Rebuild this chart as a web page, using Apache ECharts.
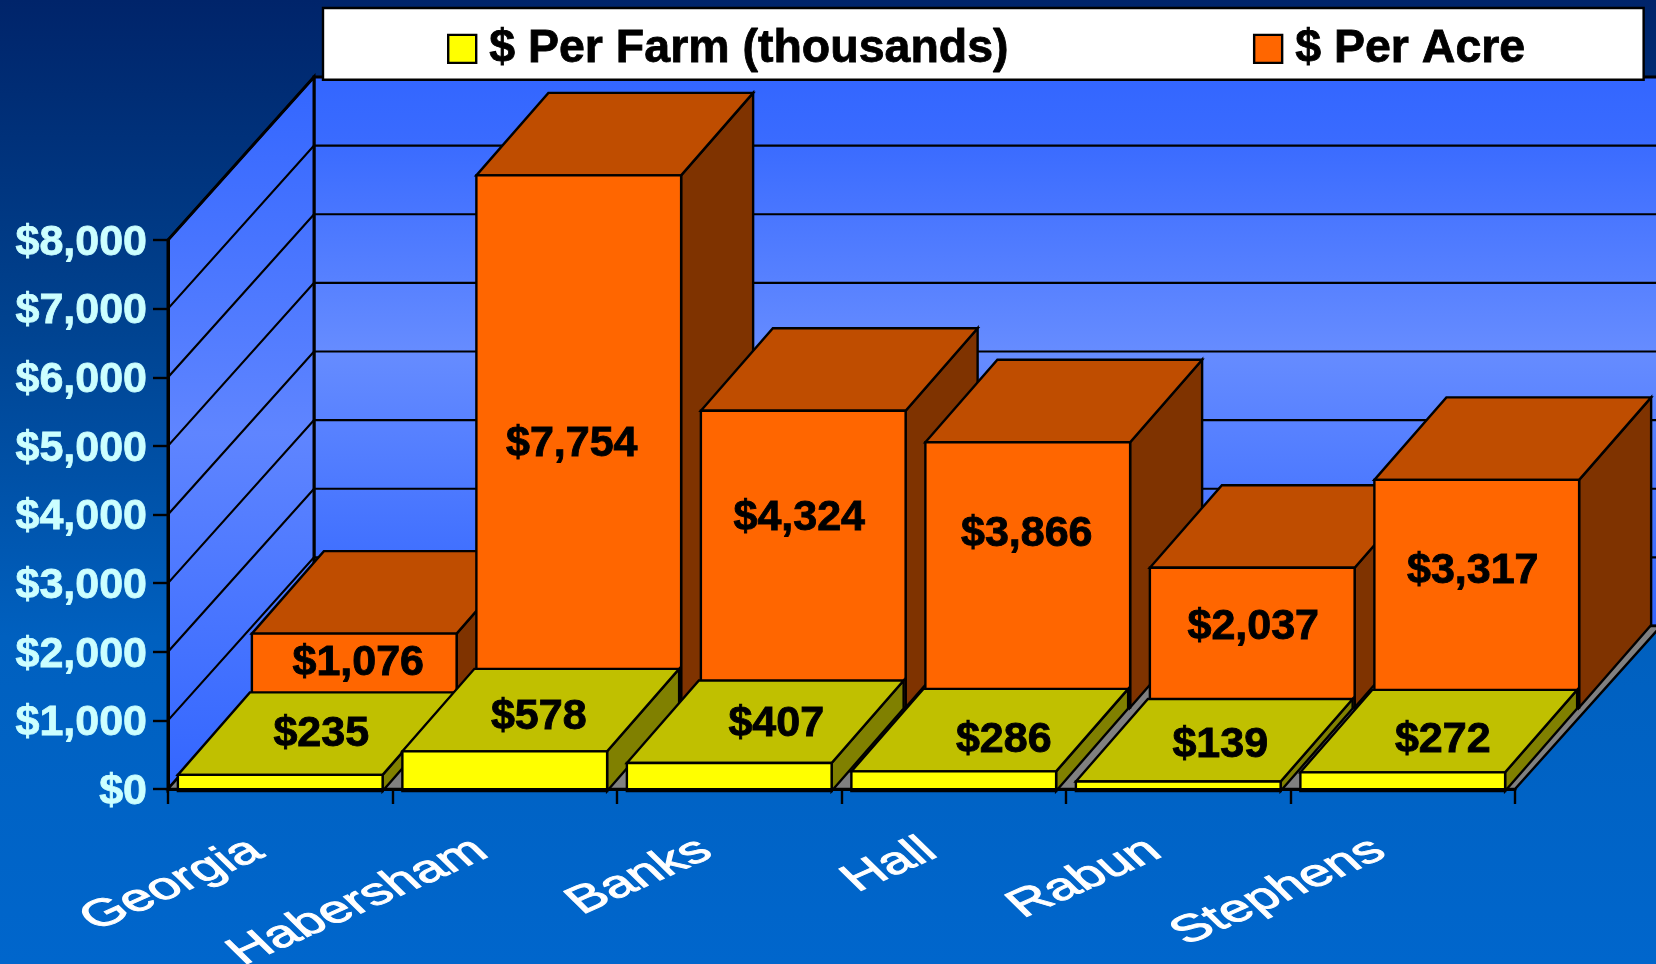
<!DOCTYPE html>
<html>
<head>
<meta charset="utf-8">
<style>html,body{margin:0;padding:0;background:#0066cc}#chart{width:1656px;height:964px}</style>
<script src="https://cdn.jsdelivr.net/npm/echarts@6/dist/echarts.min.js"></script>
</head>
<body>
<div id="chart"></div>
<script>
const categories = ['Georgia', 'Habersham', 'Banks', 'Hall', 'Rabun', 'Stephens'];
const perFarm = [235, 578, 407, 286, 139, 272];
const perAcre = [1076, 7754, 4324, 3866, 2037, 3317];
const yTicks = [0, 1000, 2000, 3000, 4000, 5000, 6000, 7000, 8000];
const seriesNames = ['$ Per Farm (thousands)', '$ Per Acre'];

// Label placement, separate from the values
const acreLabelLevel = [685, 3878, 2800, 2566, 1210, 2026];
const acreLabelNudgeX = [5, -6, -3, 0, 2, -3];
const farmLabelNudge = [[5, -1], [-2, 5], [11, 1], [14, 8], [6, 3], [4, 7]];

const FONT = '"Liberation Sans", Arial, sans-serif';
const ROW = [73, 81.5];      // depth of a series row in pixels
const BAR_D = [72, 82.5];    // depth of a bar
const BAR_W = 0.912;         // bar width, share of the category

const yellow = { front: '#ffff00', top: '#c0c000', side: '#808000' };
const orange = { front: '#ff6600', top: '#bf4d00', side: '#7f3300' };

const chart = echarts.init(document.getElementById('chart'), null, { renderer: 'canvas' });

function poly(points, fill, lw) {
  return { type: 'polygon', shape: { points }, style: { fill, stroke: '#000', lineWidth: lw || 2.4, lineJoin: 'miter' } };
}
function barRender(palette, row) {
  return function (params, api) {
    const i = api.value(0), v = api.value(1);
    const c0 = api.coord([i, 0]), c1 = api.coord([i, v]);
    const w = api.size([1, 0])[0] * BAR_W;
    const ox = ROW[0] * row + (row ? 1 : 0), oy = row ? ROW[1] : -2;
    const l = c0[0] - w / 2 + ox, r = c0[0] + w / 2 + ox;
    const b = c0[1] - oy, t = c1[1] - oy;
    const dx = BAR_D[0], dy = BAR_D[1];
    return {
      type: 'group',
      children: [
        poly([[r, b], [r + dx, b - dy], [r + dx, t - dy], [r, t]], palette.side),
        poly([[l, t], [r, t], [r + dx, t - dy], [l + dx, t - dy]], palette.top),
        poly([[l, b], [r, b], [r, t], [l, t]], palette.front)
      ]
    };
  };
}
function wallsRender(params, api) {
  const cs = params.coordSys;
  const x0 = cs.x, x1 = cs.x + cs.width, y0 = cs.y + cs.height, yT = cs.y;
  const dx = ROW[0] * 2, dy = ROW[1] * 2;
  const backFill = new echarts.graphic.LinearGradient(0, yT - dy, 0, y0 - dy, [
    { offset: 0, color: '#3366ff' }, { offset: 0.12, color: '#3a6bff' },
    { offset: 0.5, color: '#668cff' }, { offset: 1, color: '#3366ff' }
  ], true);
  const sideFill = new echarts.graphic.LinearGradient(0, yT - dy, 0, y0, [
    { offset: 0, color: '#3366ff' }, { offset: 0.5, color: '#5f85ff' }, { offset: 1, color: '#3366ff' }
  ], true);
  return {
    type: 'group',
    children: [
      poly([[x0 + dx, yT - dy], [x1 + dx, yT - dy], [x1 + dx, y0 - dy], [x0 + dx, y0 - dy]], backFill, 3),
      poly([[x0, yT], [x0 + dx, yT - dy], [x0 + dx, y0 - dy], [x0, y0]], sideFill, 3),
      poly([[x0, y0], [x1, y0], [x1 + dx, y0 - dy], [x0 + dx, y0 - dy]], '#808080', 2.4)
    ]
  };
}
function gridRender(params, api) {
  const cs = params.coordSys;
  const y = api.coord([0, api.value(1)])[1];
  const dx = ROW[0] * 2, dy = ROW[1] * 2;
  return {
    type: 'polyline',
    shape: { points: [[cs.x, y], [cs.x + dx, y - dy], [cs.x + cs.width + dx, y - dy]] },
    style: { fill: null, stroke: '#000', lineWidth: 2.2 }
  };
}
function money(v) { return '$' + v.toLocaleString('en-US'); }
function valueText(x, y, text) {
  return { type: 'text', x, y: y + 3, style: { text, fill: '#000', stroke: '#000', lineWidth: 0.9, fontFamily: FONT, fontWeight: 'bold', fontSize: 43, align: 'center', verticalAlign: 'middle' } };
}
function farmLabelRender(params, api) {
  const i = api.value(0), c = api.coord([i, api.value(1)]), n = farmLabelNudge[i];
  return valueText(c[0] + 36 + n[0], c[1] - 40.5 + n[1], money(api.value(1)));
}
function acreLabelRender(params, api) {
  const i = api.value(0), c = api.coord([i, acreLabelLevel[i]]);
  return valueText(c[0] + ROW[0] + acreLabelNudgeX[i], c[1] - ROW[1], money(api.value(1)));
}
function categoryLabelRender(params, api) {
  const i = api.value(0), c = api.coord([i, 0]);
  return {
    type: 'group', x: c[0] - 23, y: c[1] + 58, scaleX: 1.52,
    children: [{
      type: 'text', rotation: 34 * Math.PI / 180,
      style: { text: categories[i], fill: '#fff', stroke: '#fff', lineWidth: 0.9, fontFamily: FONT, fontWeight: 'normal', fontSize: 38, align: 'right', verticalAlign: 'middle' }
    }]
  };
}

const commonCustom = { type: 'custom', silent: true, clip: false, animation: false };
chart.setOption({
  animation: false,
  backgroundColor: {
    type: 'linear', x: 0, y: 0, x2: 0, y2: 1,
    colorStops: [
      { offset: 0, color: '#00246a' }, { offset: 0.33, color: '#00428f' },
      { offset: 0.66, color: '#0060bf' }, { offset: 1, color: '#0066cc' }
    ]
  },
  legend: {
    left: 323, top: 8, orient: 'horizontal', selectedMode: false,
    padding: [17, 118, 7, 124], itemGap: 244, itemWidth: 28, itemHeight: 28,
    backgroundColor: '#fff', borderColor: '#000', borderWidth: 2.4,
    textStyle: { color: '#000', fontFamily: FONT, fontWeight: 'bold', fontSize: 46.5, lineHeight: 46, padding: [0, 0, 0, 8], textBorderColor: '#000', textBorderWidth: 0.8 },
    data: [
      { name: seriesNames[0], icon: 'rect', itemStyle: { color: yellow.front, borderColor: '#000', borderWidth: 2.4 } },
      { name: seriesNames[1], icon: 'rect', itemStyle: { color: orange.front, borderColor: '#000', borderWidth: 2.4 } }
    ]
  },
  grid: { left: 168, right: 141, top: 240, height: 549, containLabel: false },
  xAxis: {
    type: 'category', data: categories, z: 6,
    axisLine: { lineStyle: { color: '#000', width: 3 } },
    axisTick: { show: true, length: 15, lineStyle: { color: '#000', width: 2.4 } },
    axisLabel: { show: false }, splitLine: { show: false }
  },
  yAxis: {
    type: 'value', min: 0, max: 8000, interval: 1000, z: 6,
    axisLine: { show: true, lineStyle: { color: '#000', width: 3 } },
    axisTick: { show: true, length: 15, lineStyle: { color: '#000', width: 2.4 } },
    splitLine: { show: false },
    axisLabel: {
      margin: 21,
      formatter: v => '{v|' + money(v) + '}',
      rich: { v: { color: '#ccffff', fontFamily: FONT, fontWeight: 'bold', fontSize: 43, textBorderColor: '#ccffff', textBorderWidth: 0.8, padding: [6, 0, 0, 0] } }
    }
  },
  series: [
    Object.assign({}, commonCustom, { name: 'walls', z: 1, renderItem: wallsRender, data: [[0, 0]] }),
    Object.assign({}, commonCustom, { name: 'gridlines', z: 1.5, renderItem: gridRender, data: yTicks.slice(1).map(v => [0, v]) }),
    Object.assign({}, commonCustom, {
      name: seriesNames[1], z: 2, renderItem: barRender(orange, 1), itemStyle: { color: orange.front },
      data: perAcre.map((v, i) => [i, v])
    }),
    Object.assign({}, commonCustom, {
      name: seriesNames[0], z: 3, renderItem: barRender(yellow, 0), itemStyle: { color: yellow.front },
      data: perFarm.map((v, i) => [i, v])
    }),
    Object.assign({}, commonCustom, { name: 'acre labels', z: 7, renderItem: acreLabelRender, data: perAcre.map((v, i) => [i, v]) }),
    Object.assign({}, commonCustom, { name: 'farm labels', z: 7, renderItem: farmLabelRender, data: perFarm.map((v, i) => [i, v]) }),
    Object.assign({}, commonCustom, { name: 'category labels', z: 7, renderItem: categoryLabelRender, data: categories.map((c, i) => [i, 0]) })
  ]
});
</script>
</body>
</html>
